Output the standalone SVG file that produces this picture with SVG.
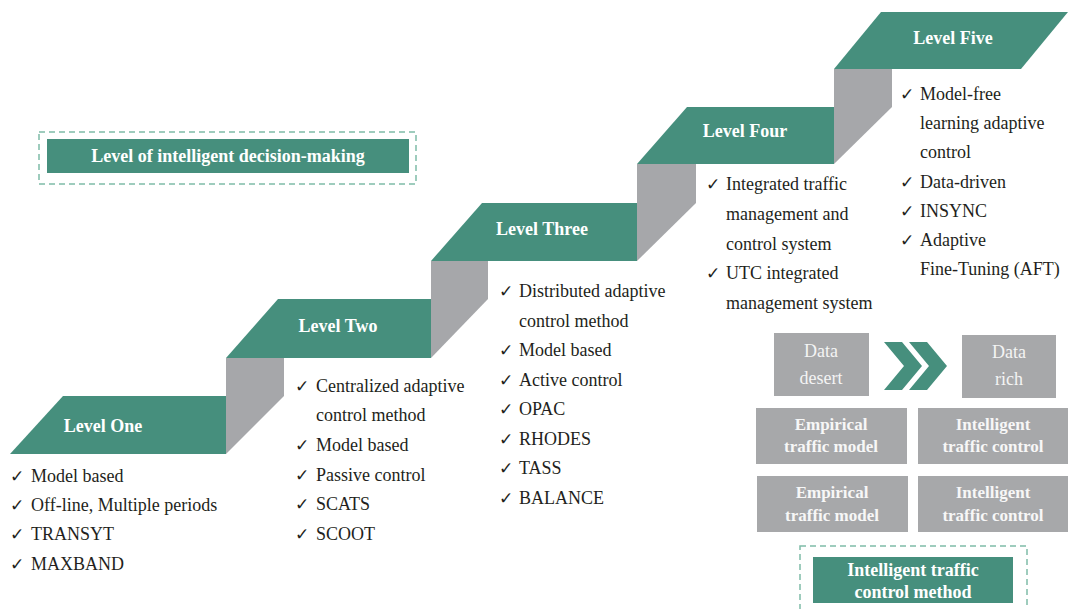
<svg xmlns="http://www.w3.org/2000/svg" width="1068" height="609" viewBox="0 0 1068 609">
<style>
.step{fill:#468f7d}
.riser{fill:#a6a7aa}
.lvl{font-family:"Liberation Serif",serif;font-weight:bold;font-size:18px;fill:#ffffff;text-anchor:middle}
.li{font-family:"Liberation Serif",serif;font-size:18px;fill:#231f20}
.ck{font-family:"DejaVu Sans",sans-serif;font-size:17px;fill:#231f20}
.gbox{fill:#a7a8aa}
.gt{font-family:"Liberation Serif",serif;font-size:18px;fill:#f4f4f4;text-anchor:middle}
.gtb{font-family:"Liberation Serif",serif;font-weight:bold;font-size:17px;fill:#f7f7f7;text-anchor:middle}
.dash{fill:none;stroke:#7fbca8;stroke-width:1.5;stroke-dasharray:6 4}
.chev{fill:#468f7d}
</style>
<rect width="1068" height="609" fill="#ffffff"/>

<g id="risers">
<polygon class="riser" points="226,358 284,358 284,396 226,454"/>
<polygon class="riser" points="431,261 488,261 488,299 431,358"/>
<polygon class="riser" points="637,164 696,164 696,203 637,261"/>
<polygon class="riser" points="834,69 892,69 892,107 834,164"/>
</g>

<g id="level-one">
<polygon class="step" points="63,396 226,396 226,454 10,454"/>
<text class="lvl" x="103" y="432">Level One</text>
<text class="ck" x="10" y="482">✓</text><text class="li" x="31" y="482">Model based</text>
<text class="ck" x="10" y="511">✓</text><text class="li" x="31" y="511">Off-line, Multiple periods</text>
<text class="ck" x="10" y="540">✓</text><text class="li" x="31" y="540">TRANSYT</text>
<text class="ck" x="10" y="570">✓</text><text class="li" x="31" y="570">MAXBAND</text>
</g>

<g id="level-two">
<polygon class="step" points="278,299 431,299 431,358 226,358"/>
<text class="lvl" x="338" y="332">Level Two</text>
<text class="ck" x="295" y="392">✓</text><text class="li" x="316" y="392">Centralized adaptive</text>
<text class="li" x="316" y="421">control method</text>
<text class="ck" x="295" y="451">✓</text><text class="li" x="316" y="451">Model based</text>
<text class="ck" x="295" y="481">✓</text><text class="li" x="316" y="481">Passive control</text>
<text class="ck" x="295" y="510">✓</text><text class="li" x="316" y="510">SCATS</text>
<text class="ck" x="295" y="540">✓</text><text class="li" x="316" y="540">SCOOT</text>
</g>

<g id="level-three">
<polygon class="step" points="482,203 637,203 637,261 431,261"/>
<text class="lvl" x="542" y="235">Level Three</text>
<text class="ck" x="499" y="297">✓</text><text class="li" x="519" y="297">Distributed adaptive</text>
<text class="li" x="519" y="327">control method</text>
<text class="ck" x="499" y="356">✓</text><text class="li" x="519" y="356">Model based</text>
<text class="ck" x="499" y="386">✓</text><text class="li" x="519" y="386">Active control</text>
<text class="ck" x="499" y="415">✓</text><text class="li" x="519" y="415">OPAC</text>
<text class="ck" x="499" y="445">✓</text><text class="li" x="519" y="445">RHODES</text>
<text class="ck" x="499" y="474">✓</text><text class="li" x="519" y="474">TASS</text>
<text class="ck" x="499" y="504">✓</text><text class="li" x="519" y="504">BALANCE</text>
</g>

<g id="level-four">
<polygon class="step" points="687,107 834,107 834,164 637,164"/>
<text class="lvl" x="745" y="137">Level Four</text>
<text class="ck" x="706" y="190">✓</text><text class="li" x="726" y="190">Integrated traffic</text>
<text class="li" x="726" y="220">management and</text>
<text class="li" x="726" y="250">control system</text>
<text class="ck" x="706" y="279">✓</text><text class="li" x="726" y="279">UTC integrated</text>
<text class="li" x="726" y="309">management system</text>
</g>

<g id="level-five">
<polygon class="step" points="881,12 1068,12 1021,69 834,69"/>
<text class="lvl" x="953" y="44">Level Five</text>
<text class="ck" x="900" y="100">✓</text><text class="li" x="920" y="100">Model-free</text>
<text class="li" x="920" y="129">learning adaptive</text>
<text class="li" x="920" y="158">control</text>
<text class="ck" x="900" y="188">✓</text><text class="li" x="920" y="188">Data-driven</text>
<text class="ck" x="900" y="217">✓</text><text class="li" x="920" y="217">INSYNC</text>
<text class="ck" x="900" y="246">✓</text><text class="li" x="920" y="246">Adaptive</text>
<text class="li" x="920" y="275">Fine-Tuning (AFT)</text>
</g>

<g id="legend-decision">
<rect class="dash" x="39" y="132" width="377" height="52"/>
<rect class="step" x="47" y="139" width="362" height="34"/>
<text class="lvl" x="228" y="162">Level of intelligent decision-making</text>
</g>

<g id="data-desert">
<rect class="gbox" x="774" y="333" width="95" height="63"/>
<text class="gt" x="821" y="357">Data</text>
<text class="gt" x="821" y="384">desert</text>
</g>

<g id="chevrons">
<polygon class="chev" points="884,342 902,342 922,366 902,390 884,390 904,366"/>
<polygon class="chev" points="909,342 927,342 947,366 927,390 909,390 929,366"/>
</g>

<g id="data-rich">
<rect class="gbox" x="962" y="335" width="94" height="63"/>
<text class="gt" x="1009" y="358">Data</text>
<text class="gt" x="1009" y="385">rich</text>
</g>

<g id="empirical-1">
<rect class="gbox" x="756" y="408" width="151" height="56"/>
<text class="gtb" x="831" y="430">Empirical</text>
<text class="gtb" x="831" y="452">traffic model</text>
</g>
<g id="intelligent-1">
<rect class="gbox" x="918" y="408" width="150" height="56"/>
<text class="gtb" x="993" y="430">Intelligent</text>
<text class="gtb" x="993" y="452">traffic control</text>
</g>
<g id="empirical-2">
<rect class="gbox" x="757" y="476" width="151" height="56"/>
<text class="gtb" x="832" y="498">Empirical</text>
<text class="gtb" x="832" y="521">traffic model</text>
</g>
<g id="intelligent-2">
<rect class="gbox" x="918" y="476" width="150" height="56"/>
<text class="gtb" x="993" y="498">Intelligent</text>
<text class="gtb" x="993" y="521">traffic control</text>
</g>

<g id="legend-method">
<rect class="dash" x="800" y="546" width="227" height="70"/>
<rect class="step" x="813" y="557" width="200" height="46"/>
<text class="lvl" x="913" y="576">Intelligent traffic</text>
<text class="lvl" x="913" y="598">control method</text>
</g>

<g id="connectors"></g>
</svg>
